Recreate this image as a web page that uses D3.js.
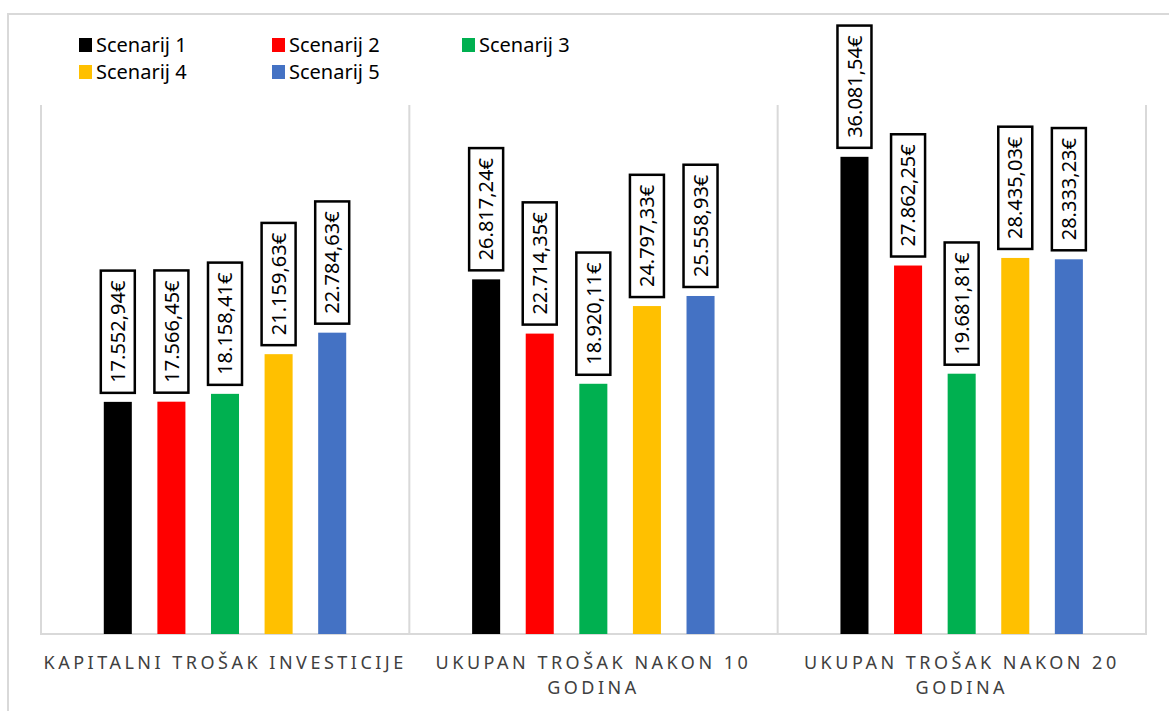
<!DOCTYPE html>
<html>
<head>
<meta charset="utf-8">
<script src="https://cdn.jsdelivr.net/npm/d3@7"></script>
<style>
  body { margin: 0; background: #fff; }
  text { font-family: "Noto Sans", sans-serif; }
</style>
</head>
<body>
<svg></svg>
<script>
// categories (line breaks as in the original axis)
const categories = [
    "KAPITALNI TROŠAK INVESTICIJE",
    "UKUPAN TROŠAK NAKON 10\nGODINA",
    "UKUPAN TROŠAK NAKON 20\nGODINA"
];

const series = ["Scenarij 1", "Scenarij 2", "Scenarij 3", "Scenarij 4", "Scenarij 5"];
const colors = ["#000000", "#ff0000", "#00b050", "#ffc000", "#4472c4"];

// values per scenario, one per category (EUR)
const scenarij1 = [17552.94, 26817.24, 36081.54];
const scenarij2 = [17566.45, 22714.35, 27862.25];
const scenarij3 = [18158.41, 18920.11, 19681.81];
const scenarij4 = [21159.63, 24797.33, 28435.03];
const scenarij5 = [22784.63, 25558.93, 28333.23];
const values = [scenarij1, scenarij2, scenarij3, scenarij4, scenarij5];

const width = 1169, height = 711;
const svg = d3.select("svg").attr("width", width).attr("height", height);

// chart frame (runs off the right / bottom edge like the screenshot)
svg.append("rect")
    .attr("x", 8).attr("y", 14)
    .attr("width", width + 20).attr("height", height + 20)
    .attr("fill", "#fff")
    .attr("stroke", "#d9d9d9").attr("stroke-width", 2);

const plot = { left: 41, right: 1146, top: 105, bottom: 634 };

const x0 = d3.scaleBand()
    .domain(categories)
    .range([plot.left, plot.right]);

const x1 = d3.scaleBand()
    .domain(series)
    .range([50, 318])
    .paddingInner(0.477)
    .paddingOuter(0.2385);

const y = d3.scaleLinear()
    .domain([0, 40000])
    .range([plot.bottom, plot.top]);

const locale = d3.formatLocale({ decimal: ",", thousands: ".", grouping: [3], currency: ["", "€"] });
const fmt = locale.format(",.2f");

// category separators
const grid = svg.append("g").attr("stroke", "#d9d9d9").attr("stroke-width", 2);
grid.selectAll("line.sep")
    .data(categories.map(c => x0(c)).concat([plot.right]))
    .enter().append("line")
    .attr("x1", d => d).attr("x2", d => d)
    .attr("y1", plot.top).attr("y2", plot.bottom);
grid.append("line")
    .attr("x1", plot.left - 1).attr("x2", plot.right + 1)
    .attr("y1", plot.bottom).attr("y2", plot.bottom);

// bars
const rows = [];
categories.forEach((c, ci) => {
    series.forEach((s, si) => rows.push({ c, s, si, v: values[si][ci] }));
});

const groups = svg.append("g").selectAll("g")
    .data(rows)
    .enter().append("g");

groups.append("rect")
    .attr("x", d => x0(d.c) + x1(d.s))
    .attr("y", d => y(d.v))
    .attr("width", x1.bandwidth())
    .attr("height", d => y(0) - y(d.v))
    .attr("fill", d => colors[d.si]);

// data labels: rotated text in a black-framed box above each bar
const pad = 10, boxW = 34, gap = 9;
const lab = groups.append("g")
    .attr("transform", d => `translate(${x0(d.c) + x1(d.s) + x1.bandwidth() / 2},${y(d.v) - gap}) rotate(-90)`);

lab.append("rect")
    .attr("x", 0).attr("y", -boxW / 2)
    .attr("height", boxW)
    .attr("fill", "#fff")
    .attr("stroke", "#000").attr("stroke-width", 2.5);

const txt = lab.append("text")
    .attr("x", pad).attr("y", 0)
    .attr("dy", "0.36em")
    .attr("font-size", 20)
    .attr("fill", "#000")
    .text(d => fmt(d.v) + "€");

txt.each(function () {
    const len = this.getComputedTextLength();
    d3.select(this.parentNode).select("rect").attr("width", len + pad * 2);
});

// category labels
const catG = svg.append("g");
categories.forEach(c => {
    const cx = x0(c) + x0.bandwidth() / 2;
    const t = catG.append("text")
        .attr("x", cx)
        .attr("y", 669)
        .attr("text-anchor", "middle")
        .attr("font-size", 18)
        .attr("letter-spacing", 3.5)
        .attr("fill", "#404040");
    c.split("\n").forEach((line, i) => {
        t.append("tspan")
            .attr("x", cx)
            .attr("dy", i === 0 ? 0 : 25)
            .text(line);
    });
});

// legend
const legendPos = [[79, 38], [272, 38], [462, 38], [79, 65], [272, 65]];
const leg = svg.append("g").selectAll("g")
    .data(series)
    .enter().append("g")
    .attr("transform", (d, i) => `translate(${legendPos[i][0]},${legendPos[i][1]})`);

leg.append("rect")
    .attr("width", 13).attr("height", 14)
    .attr("fill", (d, i) => colors[i]);

leg.append("text")
    .attr("x", 17).attr("y", 14)
    .attr("font-size", 20)
    .attr("fill", "#000")
    .text(d => d);
</script>
</body>
</html>
